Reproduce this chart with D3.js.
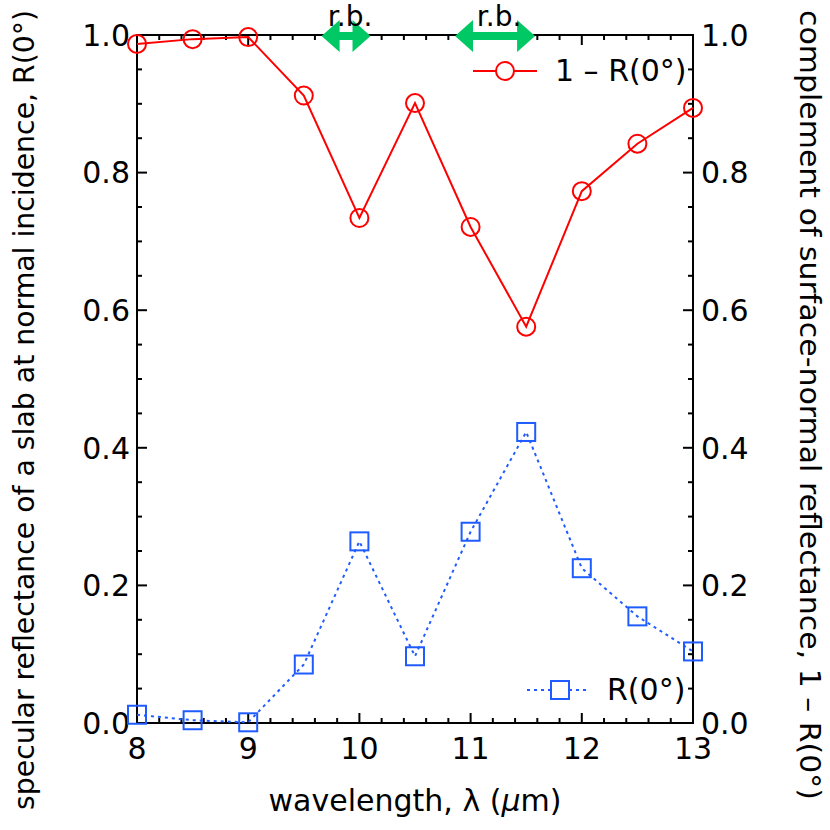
<!DOCTYPE html>
<html>
<head>
<meta charset="utf-8">
<script src="https://cdn.jsdelivr.net/npm/d3@7"></script>
<style>
  body { margin: 0; background: #fff; }
  svg text { font-family: "DejaVu Sans", sans-serif; fill: #000; }
</style>
</head>
<body>
<svg id="chart" width="830" height="830"></svg>
<script>
// data
var wavelength = [8, 8.5, 9, 9.5, 10, 10.5, 11, 11.5, 12, 12.5, 13];
var complementR = [0.987, 0.994, 0.997, 0.912, 0.734, 0.901, 0.721, 0.576, 0.773, 0.842, 0.894];
var reflR = [0.012, 0.004, 0.001, 0.085, 0.264, 0.097, 0.278, 0.423, 0.225, 0.155, 0.104];
var xTicks = [8, 9, 10, 11, 12, 13];
var yTicks = [0, 0.2, 0.4, 0.6, 0.8, 1.0];
// reststrahlen bands (arrow ends, micrometres)
var bandStart = [9.66, 10.86];
var bandEnd = [10.10, 11.58];
var bandLabel = ["r.b.", "r.b."];

var svg = d3.select("#chart");
var pL = 137, pR = 693, pT = 35, pB = 723;

var x = d3.scaleLinear().domain([8, 13]).range([pL, pR]);
var y = d3.scaleLinear().domain([0, 1]).range([pB, pT]);

var red = "#ff0000", blue = "#1f5cff", green = "#00c864";

// minor/major ticks, pointing inward on all four sides
var xMinor = d3.range(8, 13.001, 0.2);
var yMinor = d3.range(0, 1.001, 0.05);

function isMajor(v, step){ return Math.abs(v / step - Math.round(v / step)) < 1e-6; }

var tk = svg.append("g").attr("stroke", "#000").attr("stroke-width", 2);
xMinor.forEach(function(v){
    var len = isMajor(v, 1) ? 10 : 5;
    tk.append("line").attr("x1", x(v)).attr("x2", x(v)).attr("y1", pB).attr("y2", pB - len);
    tk.append("line").attr("x1", x(v)).attr("x2", x(v)).attr("y1", pT).attr("y2", pT + len);
});
yMinor.forEach(function(v){
    var len = isMajor(v, 0.2) ? 10 : 5;
    tk.append("line").attr("y1", y(v)).attr("y2", y(v)).attr("x1", pL).attr("x2", pL + len);
    tk.append("line").attr("y1", y(v)).attr("y2", y(v)).attr("x1", pR).attr("x2", pR - len);
});

// frame
svg.append("rect")
   .attr("x", pL).attr("y", pT)
   .attr("width", pR - pL).attr("height", pB - pT)
   .attr("fill", "none").attr("stroke", "#000").attr("stroke-width", 2);

// tick labels
svg.append("g").selectAll("text").data(xTicks).join("text")
   .attr("x", function(d){ return x(d); }).attr("y", 759)
   .attr("text-anchor", "middle").attr("font-size", 30)
   .text(function(d){ return d; });
svg.append("g").selectAll("text").data(yTicks).join("text")
   .attr("x", 130).attr("y", function(d){ return y(d); }).attr("dy", "0.36em")
   .attr("text-anchor", "end").attr("font-size", 30)
   .text(function(d){ return d.toFixed(1); });
svg.append("g").selectAll("text").data(yTicks).join("text")
   .attr("x", 701).attr("y", function(d){ return y(d); }).attr("dy", "0.36em")
   .attr("text-anchor", "start").attr("font-size", 30)
   .text(function(d){ return d.toFixed(1); });

// axis titles
var xt = svg.append("text").attr("x", 415).attr("y", 811)
   .attr("text-anchor", "middle").attr("font-size", 30);
xt.append("tspan").text("wavelength, λ (");
xt.append("tspan").attr("font-style", "italic").text("μ");
xt.append("tspan").text("m)");

svg.append("text")
   .attr("transform", "translate(34,410) rotate(-90)")
   .attr("text-anchor", "middle").attr("font-size", 28)
   .attr("font-family", "DejaVu Sans Condensed")
   .attr("textLength", 800).attr("lengthAdjust", "spacingAndGlyphs")
   .text("specular reflectance of a slab at normal incidence, R(0°)");

svg.append("text")
   .attr("transform", "translate(800,405) rotate(90)")
   .attr("text-anchor", "middle").attr("font-size", 28)
   .attr("font-family", "DejaVu Sans Condensed")
   .attr("textLength", 790).attr("lengthAdjust", "spacingAndGlyphs")
   .text("complement of surface-normal reflectance, 1 – R(0°)");

// series
var ptsC = wavelength.map(function(d, i){ return [d, complementR[i]]; });
var ptsR = wavelength.map(function(d, i){ return [d, reflR[i]]; });
var line = d3.line().x(function(d){ return x(d[0]); }).y(function(d){ return y(d[1]); });

svg.append("path").datum(ptsC).attr("d", line)
   .attr("fill", "none").attr("stroke", red).attr("stroke-width", 2);
svg.append("g").selectAll("circle").data(ptsC).join("circle")
   .attr("cx", function(d){ return x(d[0]); }).attr("cy", function(d){ return y(d[1]); })
   .attr("r", 9).attr("fill", "none").attr("stroke", red).attr("stroke-width", 2);

svg.append("path").datum(ptsR).attr("d", line)
   .attr("fill", "none").attr("stroke", blue).attr("stroke-width", 2)
   .attr("stroke-dasharray", "3,4");
svg.append("g").selectAll("rect").data(ptsR).join("rect")
   .attr("x", function(d){ return x(d[0]) - 9; }).attr("y", function(d){ return y(d[1]) - 9; })
   .attr("width", 18).attr("height", 18)
   .attr("fill", "none").attr("stroke", blue).attr("stroke-width", 2);

// legend
var lg = svg.append("g");
lg.append("line").attr("x1", 473).attr("x2", 537).attr("y1", 71).attr("y2", 71)
  .attr("stroke", red).attr("stroke-width", 2);
lg.append("circle").attr("cx", 505).attr("cy", 71).attr("r", 9)
  .attr("fill", "#fff").attr("stroke", red).attr("stroke-width", 2);
lg.append("text").attr("x", 555).attr("y", 81).attr("font-size", 30).text("1 – R(0°)");

lg.append("line").attr("x1", 527).attr("x2", 590).attr("y1", 690).attr("y2", 690)
  .attr("stroke", blue).attr("stroke-width", 2).attr("stroke-dasharray", "3,4");
lg.append("rect").attr("x", 551).attr("y", 681).attr("width", 18).attr("height", 18)
  .attr("fill", "#fff").attr("stroke", blue).attr("stroke-width", 2);
lg.append("text").attr("x", 607).attr("y", 700).attr("font-size", 30).text("R(0°)");

// band arrows
var ay = 36, hh = 16, hl = 18, sh = 4;
bandStart.forEach(function(b, i){
    var x0 = x(b), x1 = x(bandEnd[i]);
    var p = d3.path();
    p.moveTo(x0, ay);
    p.lineTo(x0 + hl, ay - hh);
    p.lineTo(x0 + hl, ay - sh);
    p.lineTo(x1 - hl, ay - sh);
    p.lineTo(x1 - hl, ay - hh);
    p.lineTo(x1, ay);
    p.lineTo(x1 - hl, ay + hh);
    p.lineTo(x1 - hl, ay + sh);
    p.lineTo(x0 + hl, ay + sh);
    p.lineTo(x0 + hl, ay + hh);
    p.closePath();
    svg.append("path").attr("d", p.toString()).attr("fill", green);
    svg.append("text").attr("x", (x0 + x1) / 2 + 4).attr("y", 26)
       .attr("text-anchor", "middle").attr("font-size", 28).text(bandLabel[i]);
});
</script>
</body>
</html>
